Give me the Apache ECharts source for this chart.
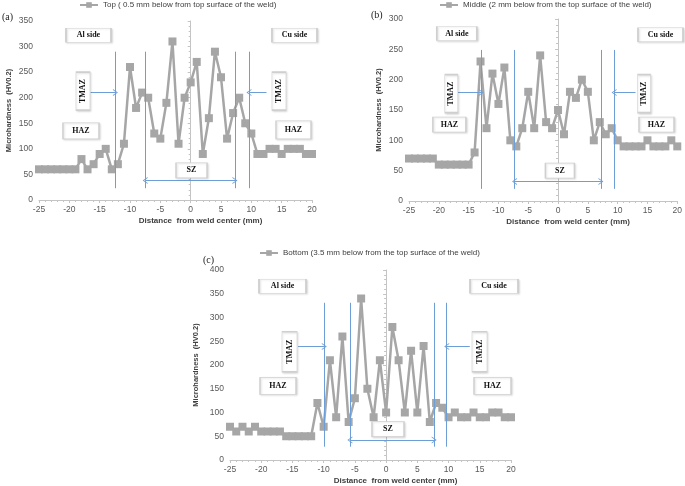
<!DOCTYPE html>
<html><head><meta charset="utf-8">
<script src="https://cdn.jsdelivr.net/npm/echarts@6/dist/echarts.min.js"></script>
<style>html,body{margin:0;padding:0;background:#fff}#c{width:685px;height:486px}</style>
</head><body><div id="c"></div>
<script>
// ---- data ----
const distances = [-25,-24,-23,-22,-21,-20,-19,-18,-17,-16,-15,-14,-13,-12,-11,-10,-9,-8,-7,-6,-5,-4,-3,-2,-1,0,1,2,3,4,5,6,7,8,9,10,11,12,13,14,15,16,17,18,19,20];
const topHardness = [60,60,60,60,60,60,60,80,60,70,90,100,60,70,110,260,180,210,200,130,120,190,310,110,200,230,270,90,160,290,240,120,170,200,150,130,90,90,100,100,90,100,100,100,90,90];
const middleHardness = [70,70,70,70,70,60,60,60,60,60,60,80,230,120,210,160,220,100,90,120,180,120,240,130,120,150,110,180,170,200,180,100,130,110,120,100,90,90,90,90,100,90,90,90,100,90];
const bottomHardness = [70,60,70,60,70,60,60,60,60,50,50,50,50,50,120,70,210,90,260,80,130,340,150,90,210,100,280,210,100,230,100,240,80,120,110,90,100,90,90,100,90,90,100,100,90,90];
const seriesNames = [
  'Top ( 0.5 mm below from top surface of the weld)',
  'Middle (2 mm below from the top surface of the weld)',
  'Bottom (3.5 mm below from the top surface of the weld)'
];
const panelLabels = ['(a)', '(b)', '(c)'];
const yMaxes = [350, 300, 400];
const xAxisTitle = 'Distance  from weld center (mm)';
const yAxisTitle = 'Microhardness  (HV0.2)';

// ---- zone annotations (data units) ----
const zoneLines = [[-12.4,-7.5,7.3,9.6],[-12.9,-7.3,7.2,9.4],[-9.9,-5.8,7.7,9.7]];
const zoneLineSpan = [[23,290],[20,249],[28,331]];
const tmazArrowY = [210,179,239];
const tmazArrowStartL = [-16.5,-16.8,-14.1];
const tmazArrowEndR = [12.5,13.0,13.4];
const szArrowY = [38,32,42];
const boxes = [
  [{t:'Al side',x:-16.84,y:322,w:45,h:14},{t:'Cu side',x:17.11,y:322,w:45,h:14},{t:'TMAZ',x:-17.75,y:213,w:14,h:38,r:1},{t:'TMAZ',x:14.56,y:213,w:14,h:38,r:1},{t:'HAZ',x:-18.08,y:135,w:36,h:16},{t:'HAZ',x:16.95,y:137,w:35,h:18},{t:'SZ',x:0.14,y:58,w:31,h:15}],
  [{t:'Al side',x:-16.98,y:276,w:40,h:14},{t:'Cu side',x:17.19,y:274,w:45,h:14},{t:'TMAZ',x:-17.9,y:177,w:13,h:38,r:1},{t:'TMAZ',x:14.43,y:177,w:13,h:38,r:1},{t:'HAZ',x:-18.23,y:126,w:33,h:15},{t:'HAZ',x:16.52,y:126,w:35,h:15},{t:'SZ',x:0.31,y:50,w:29,h:15}],
  [{t:'Al side',x:-16.59,y:366,w:47,h:14},{t:'Cu side',x:17.28,y:366,w:48,h:14},{t:'TMAZ',x:-15.47,y:228,w:15,h:40,r:1},{t:'TMAZ',x:14.96,y:228,w:15,h:40,r:1},{t:'HAZ',x:-17.31,y:156,w:36,h:17},{t:'HAZ',x:17.04,y:156,w:37,h:17},{t:'SZ',x:0.30,y:65,w:32,h:15}]
];

// ---- layout ----
const grids = [
  {left:39, top:21, width:273, height:179},
  {left:409, top:19, width:269, height:182},
  {left:230, top:270, width:281, height:191}
];
const legendPos = [{left:79, top:1},{left:439, top:1},{left:259, top:249}];
const yNameGaps = [26, 26, 30];
const labelPos = [[2,12],[371,10],[203,255]];

const allData = [topHardness, middleHardness, bottomHardness];
const lineBlue = '#6e9ed6';
const grey = '#a6a6a6';
const chevron = 'path://M5,0 L10,10 L8.6,10 L5,2.8 L1.4,10 L0,10 Z';

function zoneMarkLine(i){
  const d = [];
  zoneLines[i].forEach(x => {
    d.push([{coord:[x, zoneLineSpan[i][0]], symbol:'none'},{coord:[x, zoneLineSpan[i][1]], symbol:'none'}]);
  });
  d.push([{coord:[tmazArrowStartL[i], tmazArrowY[i]], symbol:'none'},{coord:[zoneLines[i][0], tmazArrowY[i]], symbol:chevron, symbolSize:[7,5]}]);
  d.push([{coord:[tmazArrowEndR[i], tmazArrowY[i]], symbol:'none'},{coord:[zoneLines[i][3], tmazArrowY[i]], symbol:chevron, symbolSize:[7,5]}]);
  d.push([{coord:[zoneLines[i][1], szArrowY[i]], symbol:chevron, symbolSize:[7,5]},{coord:[zoneLines[i][2], szArrowY[i]], symbol:chevron, symbolSize:[7,5]}]);
  return {silent:true, animation:false, label:{show:false}, lineStyle:{color:lineBlue, width:1, type:'solid'}, itemStyle:{color:lineBlue}, data:d};
}
function boxMarkPoint(i){
  return {silent:true, animation:false, data: boxes[i].map(b => ({
    coord:[b.x,b.y], symbol:'rect', symbolSize:[b.w,b.h],
    itemStyle:{color:'#fff', borderColor:'#cfcfcf', borderWidth:1, shadowColor:'rgba(0,0,0,0.12)', shadowBlur:2, shadowOffsetX:1, shadowOffsetY:1},
    label:{show:true, position:'inside', formatter:b.t, rotate:b.r?90:0, fontFamily:'Liberation Serif', fontWeight:'bold', fontSize:8, color:'#111'}
  }))};
}

const option = {
  animation:false,
  backgroundColor:'#fff',
  grid: grids,
  legend: seriesNames.map((n,i)=>({data:[n], left:legendPos[i].left, top:legendPos[i].top, padding:0, itemWidth:18, itemHeight:7, itemGap:4, textStyle:{fontSize:8, color:'#404040', fontFamily:'Liberation Sans'}})),
  xAxis: grids.map((g,i)=>({type:'value', gridIndex:i, min:-25, max:20, interval:5,
    axisLine:{show:true, onZero:false, lineStyle:{color:'#c4c4c4'}},
    axisTick:{show:true, length:3, lineStyle:{color:'#c4c4c4'}},
    minorTick:{show:true, splitNumber:5, length:2, lineStyle:{color:'#c4c4c4'}},
    splitLine:{show:false},
    axisLabel:{fontSize:8.5, color:'#595959', margin:5, fontFamily:'Liberation Sans'},
    name:xAxisTitle, nameLocation:'middle', nameGap:17,
    nameTextStyle:{fontWeight:'bold', fontSize:8, color:'#404040', fontFamily:'Liberation Sans', padding:[0,0,0,50]}
  })),
  yAxis: grids.map((g,i)=>({type:'value', gridIndex:i, min:0, max:yMaxes[i], interval:50,
    axisLine:{show:true, lineStyle:{color:'#c4c4c4'}},
    axisTick:{show:true, length:3, lineStyle:{color:'#c4c4c4'}},
    minorTick:{show:true, splitNumber:5, length:2, lineStyle:{color:'#c4c4c4'}},
    splitLine:{show:false},
    axisLabel:{fontSize:8.5, color:'#595959', margin:6, fontFamily:'Liberation Sans'},
    name:yAxisTitle, nameLocation:'middle', nameGap:yNameGaps[i],
    nameTextStyle:{fontWeight:'bold', fontSize:7.5, color:'#404040', fontFamily:'Liberation Sans'}
  })),
  series: allData.map((vals,i)=>({
    name:seriesNames[i], type:'line', xAxisIndex:i, yAxisIndex:i,
    data: distances.map((x,k)=>[x, vals[k]]),
    symbol:'rect', symbolSize:8,
    lineStyle:{color:grey, width:2.5}, itemStyle:{color:grey},
    markLine: zoneMarkLine(i),
    markPoint: boxMarkPoint(i)
  })),
  graphic: panelLabels.map((t,i)=>({type:'text', left:labelPos[i][0], top:labelPos[i][1], style:{text:t, fontSize:10, fontFamily:'Liberation Serif', fill:'#222'}}))
};
const chart = echarts.init(document.getElementById('c'), null, {renderer:'canvas'});
chart.setOption(option);
</script></body></html>
